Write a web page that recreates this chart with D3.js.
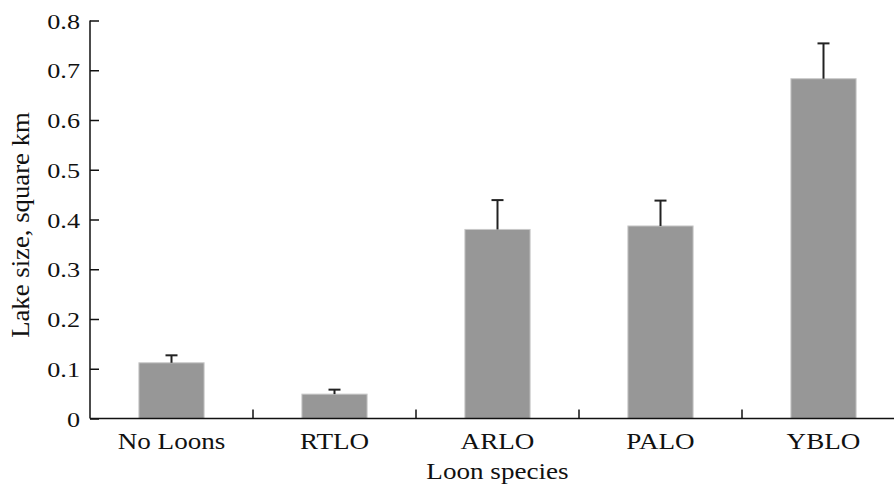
<!DOCTYPE html>
<html>
<head>
<meta charset="utf-8">
<script src="https://cdn.jsdelivr.net/npm/d3@7"></script>
<style>
  body { margin: 0; background: #fff; }
  text { font-family: "Liberation Serif", "DejaVu Serif", serif; fill: #111; }
</style>
</head>
<body>
<div id="chart"></div>
<script>
// chart data
const species = ["No Loons", "RTLO", "ARLO", "PALO", "YBLO"];
const lakeSize = [0.112, 0.049, 0.380, 0.387, 0.683];
const errorTop = [0.127, 0.058, 0.439, 0.438, 0.754];
const yTicks = [0, 0.1, 0.2, 0.3, 0.4, 0.5, 0.6, 0.7, 0.8];

const width = 894, height = 486;
const plotLeft = 90, plotBottom = 418.5, plotTop = 20.5;
const stretch = 1.13; // horizontal text in the source is a bit wide

const svg = d3.select("#chart").append("svg")
    .attr("width", width)
    .attr("height", height);

const x = d3.scaleBand()
    .domain(species)
    .range([plotLeft, plotLeft + 5 * 163])
    .paddingInner(0.6)
    .paddingOuter(0.3);

const y = d3.scaleLinear()
    .domain([0, 0.8])
    .range([plotBottom, plotTop]);

// wide text helper: draw at (px,py) stretched horizontally
function wideText(sel, px, py) {
    return sel.attr("transform", d => {
        const a = typeof px === "function" ? px(d) : px;
        return "translate(" + a + "," + py + ") scale(" + stretch + ",1)";
    });
}

// bars
svg.selectAll(".bar")
    .data(species)
    .enter()
    .append("rect")
    .attr("class", "bar")
    .attr("x", d => x(d))
    .attr("width", x.bandwidth())
    .attr("y", (d, i) => y(lakeSize[i]))
    .attr("height", (d, i) => plotBottom - y(lakeSize[i]))
    .attr("fill", "#979797")
    .attr("stroke", "#c8c8c8")
    .attr("stroke-width", 1);

// error bars (upper only)
const err = svg.selectAll(".err")
    .data(species)
    .enter()
    .append("g")
    .attr("class", "err")
    .attr("stroke", "#222")
    .attr("stroke-width", 2);
err.append("line")
    .attr("x1", d => x(d) + x.bandwidth() / 2)
    .attr("x2", d => x(d) + x.bandwidth() / 2)
    .attr("y1", (d, i) => y(lakeSize[i]))
    .attr("y2", (d, i) => y(errorTop[i]));
err.append("line")
    .attr("x1", d => x(d) + x.bandwidth() / 2 - 6)
    .attr("x2", d => x(d) + x.bandwidth() / 2 + 6)
    .attr("y1", (d, i) => y(errorTop[i]))
    .attr("y2", (d, i) => y(errorTop[i]));

// y axis
const yAxis = svg.append("g")
    .attr("transform", "translate(" + plotLeft + ",0)")
    .call(d3.axisRight(y).tickValues(yTicks).tickSize(9).tickFormat(d3.format("")));
yAxis.select(".domain").remove();
yAxis.selectAll("line").attr("stroke", "#111").attr("stroke-width", 1.5);
yAxis.selectAll("text")
    .attr("x", 0)
    .attr("dy", "0.35em")
    .attr("text-anchor", "end")
    .attr("transform", "translate(-10,0) scale(1.19,1)")
    .style("font-size", "22px");
svg.append("line")
    .attr("x1", plotLeft).attr("x2", plotLeft)
    .attr("y1", plotTop).attr("y2", plotBottom)
    .attr("stroke", "#111").attr("stroke-width", 1.5);

// x axis line and band separators
svg.append("line")
    .attr("x1", plotLeft).attr("x2", width)
    .attr("y1", plotBottom).attr("y2", plotBottom)
    .attr("stroke", "#111").attr("stroke-width", 1.5);
svg.selectAll(".sep")
    .data(species.slice(1))
    .enter()
    .append("line")
    .attr("class", "sep")
    .attr("x1", d => x(d) - x.step() * x.paddingInner() / 2)
    .attr("x2", d => x(d) - x.step() * x.paddingInner() / 2)
    .attr("y1", plotBottom)
    .attr("y2", plotBottom - 9)
    .attr("stroke", "#111").attr("stroke-width", 1.5);

// x labels
svg.selectAll(".xlab")
    .data(species)
    .enter()
    .append("text")
    .attr("class", "xlab")
    .attr("text-anchor", "middle")
    .style("font-size", "24px")
    .call(wideText, d => x(d) + x.bandwidth() / 2, 449)
    .text(d => d);

// axis titles
svg.append("text")
    .datum("Loon species")
    .attr("text-anchor", "middle")
    .style("font-size", "24px")
    .call(wideText, x("ARLO") + x.bandwidth() / 2, 479)
    .text(d => d);
svg.append("text")
    .attr("transform", "translate(29,225) rotate(-90) scale(1.07,1)")
    .attr("text-anchor", "middle")
    .style("font-size", "25px")
    .text("Lake size, square km");
</script>
</body>
</html>
